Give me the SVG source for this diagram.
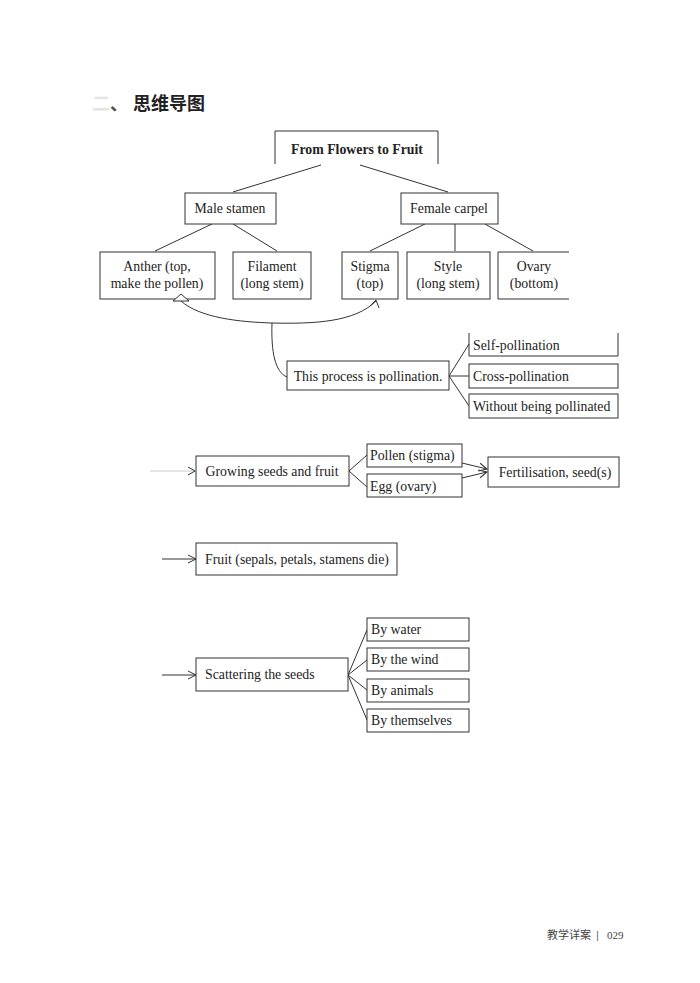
<svg xmlns="http://www.w3.org/2000/svg" width="700" height="983" viewBox="0 0 700 983">
<style>
.b{fill:#fff;stroke:#333;stroke-width:1}
.o{fill:none;stroke:#333;stroke-width:1}
.t{font-family:"Liberation Serif","DejaVu Serif",serif;font-size:13.8px;fill:#222}
.c{text-anchor:middle}
.l{fill:none;stroke:#333;stroke-width:1}
</style>
<defs>
<marker id="ah" markerWidth="10" markerHeight="10" refX="9" refY="5" orient="auto" markerUnits="userSpaceOnUse">
<path d="M1,1 L9,5 L1,9" fill="none" stroke="#333" stroke-width="1"/>
</marker>
</defs>
<rect width="700" height="983" fill="#fff"/>
<g id="heading">
<text x="92" y="110" font-family="'Noto Sans CJK SC',sans-serif" font-size="18" font-weight="bold" fill="#e4e4e4">二</text>
<text x="110" y="110" font-family="'Noto Sans CJK SC',sans-serif" font-size="18" font-weight="bold" fill="#555">、</text>
<text x="133" y="110" font-family="'Noto Sans CJK SC',sans-serif" font-size="18" font-weight="bold" fill="#222">思维导图</text>
</g>
<g id="connectors">
<line class="l" x1="321" y1="165" x2="233" y2="192"/>
<line class="l" x1="360" y1="165" x2="448" y2="192"/>
<line class="l" x1="212" y1="224" x2="155" y2="251"/>
<line class="l" x1="233" y1="224" x2="277" y2="251"/>
<line class="l" x1="425" y1="224" x2="370" y2="251"/>
<line class="l" x1="455" y1="224" x2="455" y2="251"/>
<line class="l" x1="485" y1="224" x2="533" y2="251"/>
<path class="l" d="M181,301 C200,318 240,322 272,323 C315,324 355,322 376,301"/>
<path class="l" d="M370,306 L376,300 L379,308"/>
<path class="l" d="M272,323 C271,352 275,372 287,377"/>
<line class="l" x1="449" y1="376" x2="469" y2="344"/>
<line class="l" x1="449" y1="376" x2="469" y2="376"/>
<line class="l" x1="449" y1="376" x2="469" y2="406"/>
<line x1="150" y1="471" x2="196" y2="471" stroke="#ccc" stroke-width="1"/>
<path class="l" d="M188,467 L195,471 L188,475"/>
<line class="l" x1="349" y1="471" x2="367" y2="455"/>
<line class="l" x1="349" y1="471" x2="367" y2="487"/>
<line class="l" x1="462" y1="463" x2="487" y2="469" marker-end="url(#ah)"/>
<line class="l" x1="462" y1="478" x2="487" y2="472" marker-end="url(#ah)"/>
<line class="l" x1="162" y1="559" x2="196" y2="559" marker-end="url(#ah)"/>
<line class="l" x1="162" y1="675" x2="196" y2="675" marker-end="url(#ah)"/>
<line class="l" x1="348" y1="675" x2="367" y2="630"/>
<line class="l" x1="348" y1="675" x2="367" y2="660"/>
<line class="l" x1="348" y1="675" x2="367" y2="690"/>
<line class="l" x1="348" y1="675" x2="367" y2="720"/>
</g>
<g id="title">
<path class="o" d="M275,164 V131 H438 V164"/>
<text class="t c" x="357" y="154" font-size="16" font-weight="bold" fill="#333">From Flowers to Fruit</text>
</g>
<g id="male"><rect class="b" x="185" y="193" width="91" height="31"/><text class="t c" x="230" y="213">Male stamen</text></g>
<g id="female"><rect class="b" x="401" y="193" width="97" height="31"/><text class="t c" x="449" y="213">Female carpel</text></g>
<g id="anther"><rect class="b" x="100" y="252" width="115" height="47"/><text class="t c" x="157" y="271">Anther (top,</text><text class="t c" x="157" y="288">make the pollen)</text></g>
<polygon points="173,301 181,294 189,301" fill="#fff" stroke="#333" stroke-width="1"/>
<g id="filament"><rect class="b" x="233" y="252" width="78" height="47"/><text class="t c" x="272" y="271">Filament</text><text class="t c" x="272" y="288">(long stem)</text></g>
<g id="stigma"><rect class="b" x="342" y="252" width="56" height="47"/><text class="t c" x="370" y="271">Stigma</text><text class="t c" x="370" y="288">(top)</text></g>
<g id="style"><rect class="b" x="407" y="252" width="83" height="47"/><text class="t c" x="448" y="271">Style</text><text class="t c" x="448" y="288">(long stem)</text></g>
<g id="ovary"><path class="o" d="M569,252 H498 V299 H569"/><text class="t c" x="534" y="271">Ovary</text><text class="t c" x="534" y="288">(bottom)</text></g>
<g id="pollination"><rect class="b" x="287" y="361" width="162" height="29"/><text class="t c" x="368" y="381">This process is pollination.</text></g>
<g id="self"><path class="o" d="M469,333 V356 H618 V333"/><text class="t" x="473" y="350">Self-pollination</text></g>
<g id="cross"><rect class="b" x="469" y="364" width="149" height="24"/><text class="t" x="473" y="381">Cross-pollination</text></g>
<g id="without"><rect class="b" x="469" y="394" width="149" height="24"/><text class="t" x="473" y="411">Without being pollinated</text></g>
<g id="growing"><rect class="b" x="196" y="456" width="153" height="30"/><text class="t c" x="272" y="476">Growing seeds and fruit</text></g>
<g id="pollen"><rect class="b" x="367" y="444" width="95" height="23"/><text class="t" x="370" y="460">Pollen (stigma)</text></g>
<g id="egg"><rect class="b" x="367" y="474" width="95" height="23"/><text class="t" x="370" y="491">Egg (ovary)</text></g>
<g id="fertilisation"><rect class="b" x="488" y="457" width="131" height="30"/><text class="t c" x="555" y="477">Fertilisation, seed(s)</text></g>
<g id="fruit"><rect class="b" x="196" y="543" width="201" height="32"/><text class="t" x="205" y="564">Fruit (sepals, petals, stamens die)</text></g>
<g id="scattering"><rect class="b" x="196" y="658" width="152" height="33"/><text class="t" x="205" y="679">Scattering the seeds</text></g>
<g id="water"><rect class="b" x="367" y="618" width="102" height="23"/><text class="t" x="371" y="634">By water</text></g>
<g id="wind"><rect class="b" x="367" y="648" width="102" height="23"/><text class="t" x="371" y="664">By the wind</text></g>
<g id="animals"><rect class="b" x="367" y="679" width="102" height="23"/><text class="t" x="371" y="695">By animals</text></g>
<g id="themselves"><rect class="b" x="367" y="709" width="102" height="23"/><text class="t" x="371" y="725">By themselves</text></g>
<g id="footer">
<text x="547" y="939" font-family="'Noto Sans CJK SC',sans-serif" font-size="11" fill="#444">教学详案</text>
<text x="596" y="939" font-family="'Liberation Sans',sans-serif" font-size="11" fill="#666">|</text>
<text x="607" y="939" font-family="'Liberation Serif',serif" font-size="11" fill="#444">029</text>
</g>
</svg>
